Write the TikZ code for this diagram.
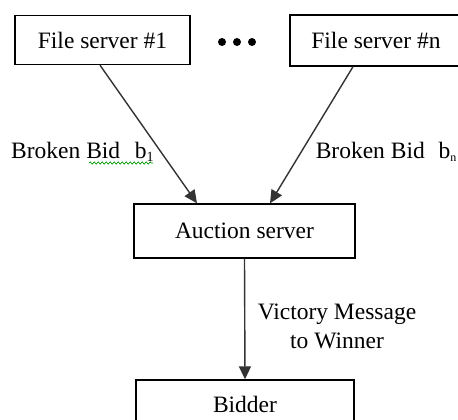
\documentclass[tikz,border=0pt]{standalone}
\usepackage{fontspec}
\setmainfont{Liberation Serif}
\usetikzlibrary{arrows.meta,decorations.pathmorphing}
\begin{document}
\begin{tikzpicture}[x=1pt,y=-1pt,
  box/.style={draw=black,line width=1.4pt,rectangle,inner sep=0pt,font=\fontsize{23.5}{29}\selectfont},
  arr/.style={draw=black!80,line width=1.4pt,-{Triangle[length=13pt,width=12pt]}},
  lbl/.style={inner sep=0pt,font=\fontsize{23.5}{29}\selectfont}]
\useasboundingbox (0,0) rectangle (458,420);
\fill[white] (0,0) rectangle (458,420);
\node[box,minimum width=175pt,minimum height=49pt] (fs1) at (102.5,40) {File server \#1};
\node[box,minimum width=172pt,minimum height=51pt] (fsn) at (376,40.5) {File server \#n};
\node[box,minimum width=221pt,minimum height=54pt] (auction) at (244.5,231) {Auction server};
\node[box,minimum width=218pt,minimum height=54pt,text depth=6pt,text height=16pt] (bidder) at (245,407) {Bidder};
\foreach \i/\xx in {1/222,2/237,3/252}{\fill (\xx,42) circle (4pt);}
\draw[arr] ([xshift=-2.5pt]fs1.south) -- ([xshift=-47.5pt]auction.north);
\draw[arr] ([xshift=-23pt]fsn.south) -- ([xshift=25.5pt]auction.north);
\draw[arr] (auction.south) -- (bidder.north);
\node[lbl,anchor=base west] (l1) at (11,158) {Broken Bid\ \ \hspace{3pt}b\raisebox{-3pt}{\fontsize{14}{14}\selectfont 1}};
\node[lbl,anchor=base east] (l2) at (456.5,158) {Broken Bid\ \ \hspace{2pt}b\raisebox{-3pt}{\fontsize{12}{12}\selectfont n}};
\draw[green!60!black,line width=0.7pt,decorate,decoration={snake,amplitude=1.2pt,segment length=4pt}] (89,163) -- (153,163);
\node[lbl,align=center] (vm) at (337,326) {Victory Message\\to Winner};
\end{tikzpicture}
\end{document}
